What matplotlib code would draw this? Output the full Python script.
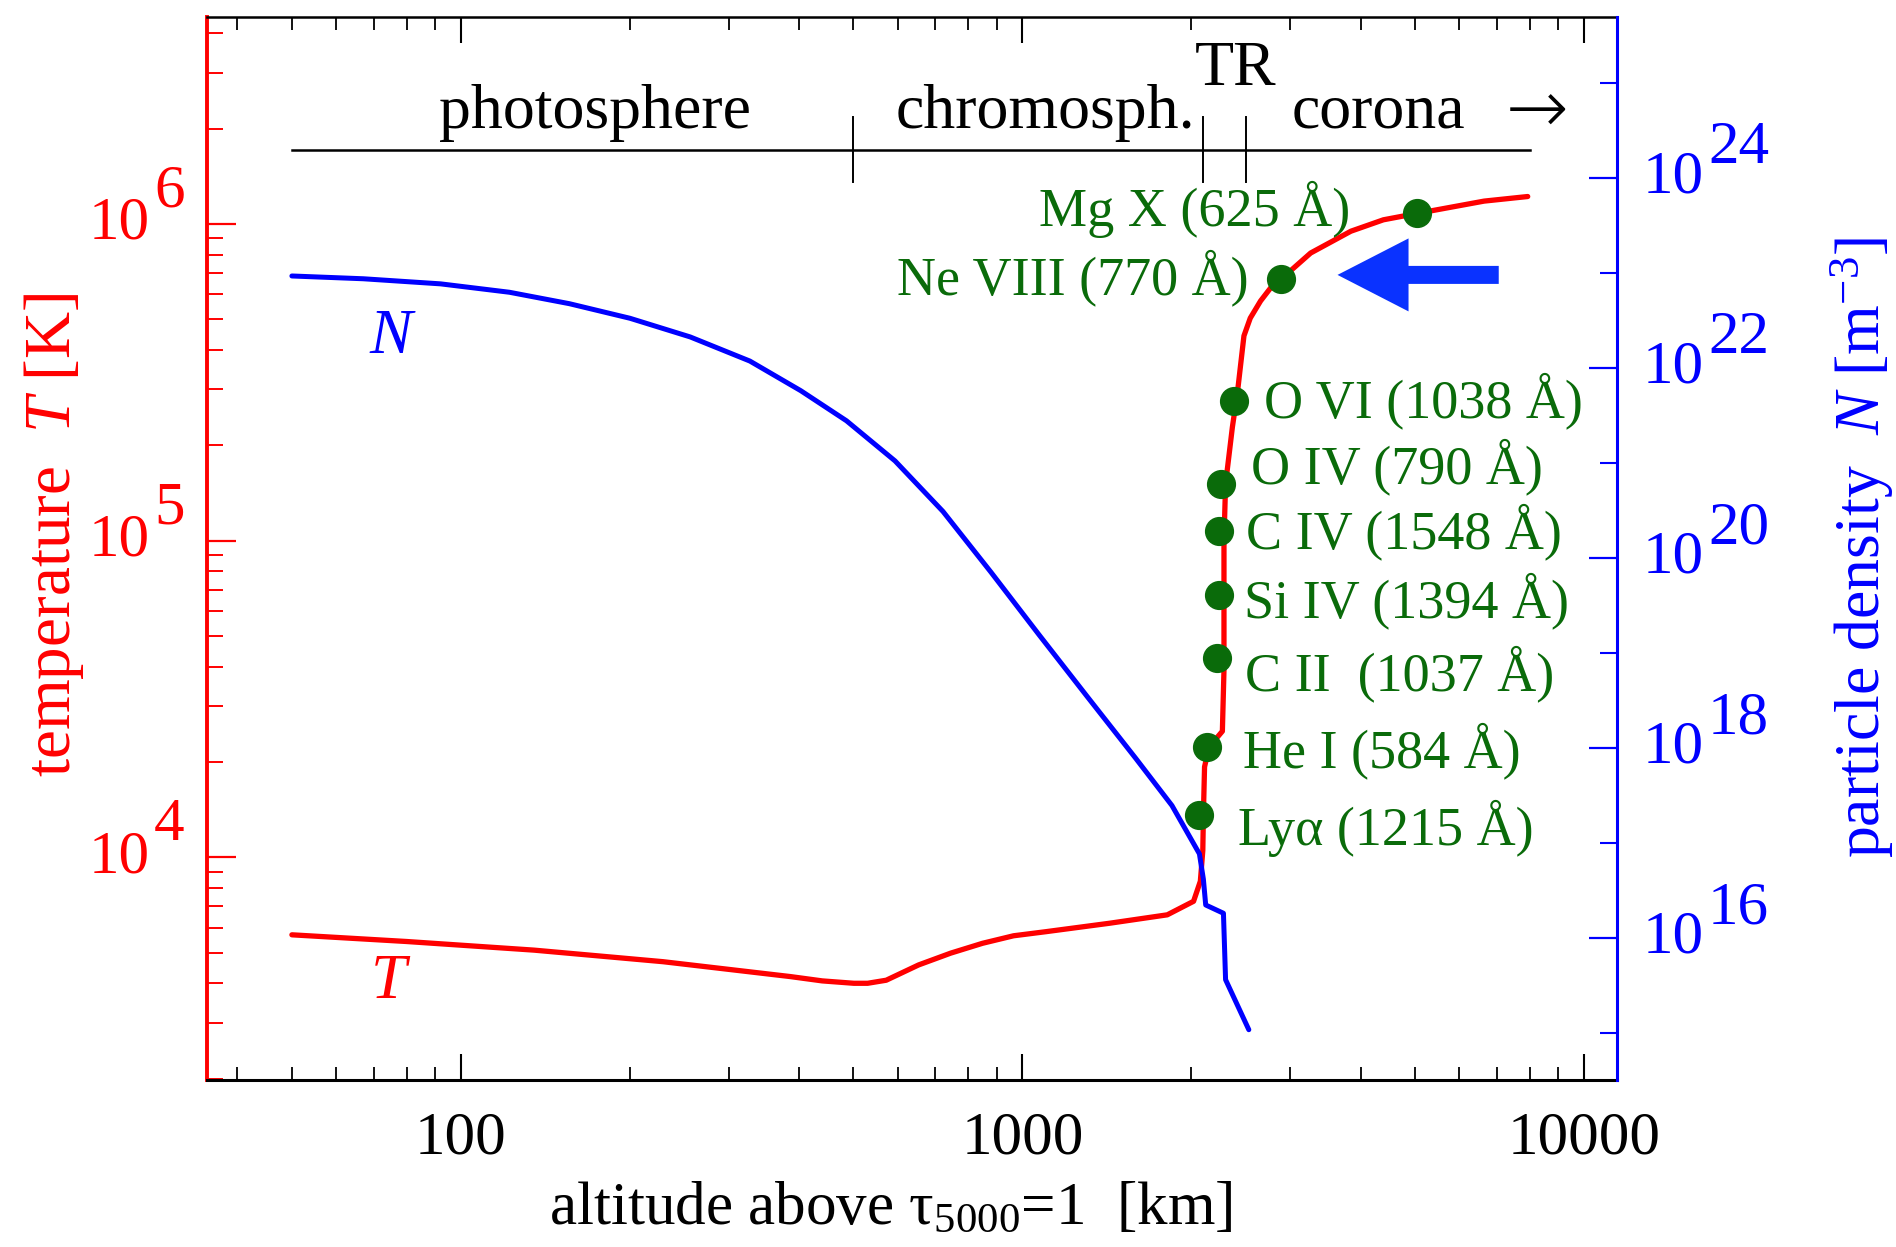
import matplotlib
matplotlib.use('Agg')
import matplotlib.pyplot as plt
from matplotlib import ticker, transforms

plt.rcParams['font.family'] = ['Liberation Serif', 'DejaVu Serif']
plt.rcParams['mathtext.fontset'] = 'custom'
plt.rcParams['mathtext.rm'] = 'Liberation Serif'
plt.rcParams['mathtext.it'] = 'Liberation Serif:italic'
plt.rcParams['mathtext.bf'] = 'Liberation Serif:bold'

# ---------------- data ----------------
# temperature profile (altitude km, T in K)
T_alt = [50, 80, 135, 229, 386, 440, 501, 530, 572, 653, 745, 849, 964, 1100, 1430, 1811,
         2017, 2074, 2095, 2100, 2110, 2150, 2270, 2285, 2285, 2300, 2365, 2415, 2480, 2545,
         2655, 2767, 2885, 3260, 3845, 4393, 5060, 6640, 7940]
T_val = [5690, 5420, 5090, 4680, 4200, 4070, 4000, 4000, 4090, 4570, 4980, 5350, 5650, 5820,
         6190, 6580, 7260, 8400, 10500, 13600, 19300, 22300, 25000, 39000, 100000, 151000,
         228000, 294000, 443000, 504000, 571000, 628000, 668000, 809000, 948000, 1030000,
         1080000, 1180000, 1220000]

# particle density profile (altitude km, N in m^-3)
N_alt = [50, 67, 92, 122, 156, 200, 256, 327, 403, 486, 593, 722, 879, 1071, 1306, 1591,
         1846, 2066, 2100, 2120, 2280, 2300, 2530]
N_val = [9.2e22, 8.6e22, 7.6e22, 6.2e22, 4.7e22, 3.3e22, 2.1e22, 1.17e22, 5.7e21, 2.75e21,
         1.04e21, 3.05e20, 7.0e19, 1.53e19, 3.4e18, 7.7e17, 2.45e17, 7.6e16, 4.1e16, 2.2e16,
         1.8e16, 3.6e15, 1.07e15]

# spectral lines formed along the temperature curve
line_names = ['Ly\u03b1 (1215 \u00c5)', 'He I (584 \u00c5)', 'C II  (1037 \u00c5)',
              'Si IV (1394 \u00c5)', 'C IV (1548 \u00c5)', 'O IV (790 \u00c5)',
              'O VI (1038 \u00c5)', 'Ne VIII (770 \u00c5)', 'Mg X (625 \u00c5)']
line_alt = [2061, 2133, 2222, 2238, 2238, 2254, 2377, 2885, 5040]
line_T = [1.36e4, 2.23e4, 4.26e4, 6.74e4, 1.07e5, 1.51e5, 2.76e5, 6.68e5, 1.08e6]

# atmospheric regions
region_names = ['photosphere', 'chromosph.', 'TR', 'corona']
region_text_x = [173, 1100, 2400, 4300]
region_bounds = [500, 2100, 2500]
region_span = [50, 8000]
arrow_text_x = 8240

x_ticks = [100, 1000, 10000]
T_exponents = [4, 5, 6]
N_exponents = [16, 18, 20, 22, 24]
N_minor_exponents = [15, 17, 19, 21, 23, 25]

# ---------------- style / layout ----------------
RED = '#ff0000'
BLUE = '#0000ff'
GREEN = '#0a6b0a'
ARROW = '#0a32ff'
PX = 0.72  # points per pixel at dpi 100

# label offsets in pixels (dx, dy, ha) relative to each dot
label_offsets = [(39, -13, 'left'), (36, -4, 'left'), (28, -16, 'left'),
                 (25, -6, 'left'), (27, -1, 'left'), (30, 17, 'left'),
                 (30, 0, 'left'), (-32, 2, 'right'), (-67, 4, 'right')]

fig = plt.figure(figsize=(18.96, 12.47), dpi=100)
ax = fig.add_axes([207 / 1896, 1 - 1080 / 1247, 1410 / 1896, 1063 / 1247])
ax2 = ax.twinx()

ax.set_xscale('log')
ax.set_yscale('log')
ax2.set_yscale('log')
ax.set_xlim(35.3, 11450)
ax.set_ylim(1980, 4.5e6)
ax2.set_ylim(10 ** 14.5, 10 ** 25.69)

# curves
ax.plot(T_alt, T_val, color=RED, lw=3.8, solid_joinstyle='round', solid_capstyle='round', zorder=3)
ax2.plot(N_alt, N_val, color=BLUE, lw=3.6, solid_joinstyle='round', solid_capstyle='round', zorder=3)
ax.plot(line_alt, line_T, 'o', color=GREEN, ms=20, mec=GREEN, zorder=4)

for name, xa, ya, (dx, dy, ha) in zip(line_names, line_alt, line_T, label_offsets):
    ax.annotate(name, xy=(xa, ya), xytext=(dx * PX, dy * PX), textcoords='offset points',
                ha=ha, va='center', color=GREEN, fontsize=39, zorder=5)

# curve labels
ax.text(75, 4000, '$\\mathit{T}$', color=RED, fontsize=46, ha='center', va='center')
ax2.text(75.7, 10 ** 22.31, '$\\mathit{N}$', color=BLUE, fontsize=46, ha='center', va='center')

# blue arrow
ax.annotate('', xy=(3640, 6.9e5), xytext=(7050, 6.9e5),
            arrowprops=dict(arrowstyle='simple,head_length=0.71,head_width=0.73,tail_width=0.18',
                            color=ARROW, mutation_scale=72, shrinkA=0, shrinkB=0, lw=0))

# region bar
bt = transforms.blended_transform_factory(ax.transData, ax.transAxes)
ax.plot(region_span, [0.875, 0.875], color='black', lw=1.8, transform=bt, zorder=2)
for b in region_bounds:
    ax.plot([b, b], [0.845, 0.906], color='black', lw=1.4, transform=bt, zorder=2)
for name, xr in zip(region_names, region_text_x):
    yy = 0.936 if name == 'TR' else 0.896
    ax.text(xr, yy, name, transform=bt, ha='center', va='baseline', fontsize=46, color='black')
ax.text(arrow_text_x, 0.91, '\u2192', transform=bt, ha='center', va='center', fontsize=54,
        color='black', family=['DejaVu Sans'], fontweight='light')

# ticks
ax.xaxis.set_major_locator(ticker.FixedLocator(x_ticks))
ax.xaxis.set_minor_locator(ticker.LogLocator(base=10, subs=range(2, 10), numticks=20))
ax.xaxis.set_major_formatter(ticker.FuncFormatter(lambda v, p: '%d' % round(v)))
ax.xaxis.set_minor_formatter(ticker.NullFormatter())
ax.tick_params(axis='x', which='major', direction='in', length=19, width=1.5, top=True,
               bottom=True, labelsize=44, pad=22, colors='black')
ax.tick_params(axis='x', which='minor', direction='in', length=9.5, width=1.3, top=True, bottom=True)

ax.yaxis.set_major_locator(ticker.FixedLocator([10.0 ** e for e in T_exponents]))
ax.yaxis.set_minor_locator(ticker.LogLocator(base=10, subs=range(2, 10), numticks=20))
ax.yaxis.set_minor_formatter(ticker.NullFormatter())
ax.tick_params(axis='y', which='major', direction='in', length=21, width=1.6, colors=RED,
               left=True, right=False, labelleft=False)
ax.tick_params(axis='y', which='minor', direction='in', length=11.5, width=1.4, colors=RED,
               left=True, right=False)

ax2.yaxis.set_major_locator(ticker.FixedLocator([10.0 ** e for e in N_exponents]))
ax2.yaxis.set_minor_locator(ticker.FixedLocator([10.0 ** e for e in N_minor_exponents]))
ax2.yaxis.set_minor_formatter(ticker.NullFormatter())
ax2.tick_params(axis='y', which='major', direction='in', length=20, width=1.6, colors=BLUE,
                right=True, labelright=False)
ax2.tick_params(axis='y', which='minor', direction='in', length=12, width=1.5, colors=BLUE,
                right=True)

# power-of-ten tick labels with full size exponents
lt = transforms.blended_transform_factory(ax.transAxes, ax.transData)
for e in T_exponents:
    ax.text(0, 10.0 ** e, '10', color=RED, fontsize=44, ha='right', va='center',
            transform=transforms.offset_copy(lt, fig=fig, x=-57 * PX, y=0, units='points'))
    ax.text(0, 10.0 ** e, str(e), color=RED, fontsize=44, ha='left', va='center',
            transform=transforms.offset_copy(lt, fig=fig, x=-53 * PX, y=32 * PX, units='points'))
rt = transforms.blended_transform_factory(ax2.transAxes, ax2.transData)
for e in N_exponents:
    ax2.text(1, 10.0 ** e, '10', color=BLUE, fontsize=44, ha='left', va='center',
             transform=transforms.offset_copy(rt, fig=fig, x=26 * PX, y=0, units='points'))
    ax2.text(1, 10.0 ** e, str(e), color=BLUE, fontsize=44, ha='left', va='center',
             transform=transforms.offset_copy(rt, fig=fig, x=91 * PX, y=29 * PX, units='points'))

# spines
ax.spines['left'].set_color(RED)
ax.spines['left'].set_linewidth(2.8)
ax.spines['right'].set_visible(False)
ax.spines['top'].set_linewidth(1.8)
ax.spines['bottom'].set_linewidth(2.2)
ax2.spines['left'].set_visible(False)
ax2.spines['top'].set_visible(False)
ax2.spines['bottom'].set_visible(False)
ax2.spines['right'].set_color(BLUE)
ax2.spines['right'].set_linewidth(2.2)

# axis labels
ax.set_xlabel('altitude above $\\mathrm{\\tau_{5000}}$=1  [km]', fontsize=44, color='black')
ax.xaxis.label.set_va('center')
ax.xaxis.set_label_coords(0.485, -0.121)
ax.set_ylabel('temperature  $\\mathit{T}$ [K]', fontsize=47, color=RED)
ax.yaxis.label.set_va('center')
ax.yaxis.set_label_coords(-0.1085, 0.513)
ax2.set_ylabel('particle density  $\\mathit{N}$ [m$^{-3}$]', fontsize=46, color=BLUE,
               rotation=90)
ax2.yaxis.label.set_va('center')
ax2.yaxis.set_label_coords(1.174, 0.501)

fig.savefig('out.png', dpi=100)
